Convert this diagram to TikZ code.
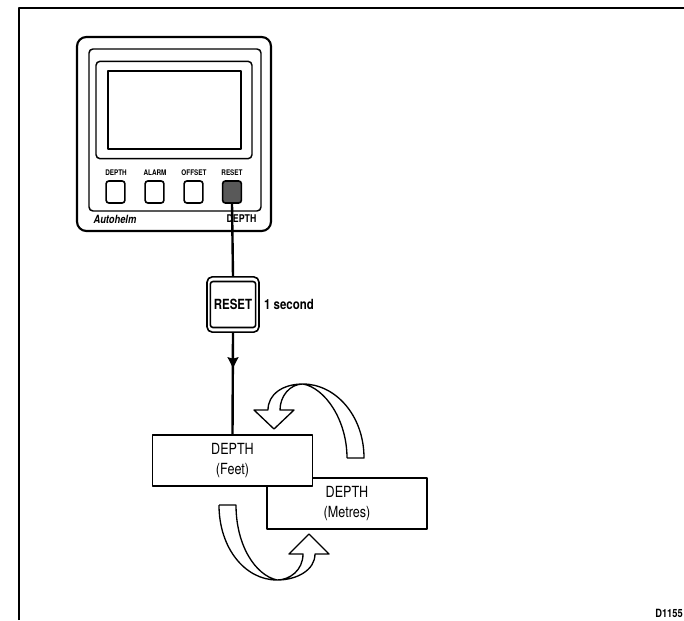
\documentclass[tikz,border=0pt]{standalone}
\usepackage{fontspec}
\setmainfont[FakeStretch=0.82]{TeX Gyre Heros}
\usetikzlibrary{arrows.meta,positioning}
\begin{document}
\begin{tikzpicture}[x=0.75pt,y=-0.75pt,>=Stealth,line join=round,
label/.style={inner sep=0pt,align=center,font=\fontsize{10.5}{12}\selectfont\bfseries},
btnlabel/.style={inner sep=0pt,font=\fontsize{5.8}{6}\selectfont\bfseries},
btn/.style={draw,rounded corners=2pt,line width=1.2pt,minimum width=14pt,minimum height=16.5pt,inner sep=0pt},
state/.style={draw,fill=white,line width=1.2pt,minimum width=120pt,minimum height=38pt,inner sep=0pt,align=center,font=\fontsize{11.5}{15}\selectfont},
turn/.style={draw,line width=1pt,fill=white}]
\useasboundingbox (0,0) rectangle (684,620);
% frame
\coordinate (frameleft) at (19,620);
\coordinate (framecorner) at (19,8);
\coordinate (frameright) at (684,8);
\draw[line width=1.6pt] (frameleft)--(framecorner)--(frameright);
% instrument
\node[draw,line width=1.6pt,rounded corners=7pt,minimum width=145.5pt,minimum height=145.5pt] (case) at (174,134) {};
\node[draw,line width=1.1pt,rounded corners=3pt,minimum width=129pt,minimum height=121.5pt] (bezel) at (175,130) {};
\node[draw,line width=1.1pt,rounded corners=3pt,minimum width=117pt,minimum height=73pt] (window) at (174,110) {};
\node[draw,line width=1.4pt,minimum width=99.75pt,minimum height=58.5pt] (screen) at (174.5,110) {};
\node[btn] (depthbtn) at (115.5,192) {};
\node[btn] (alarmbtn) at (154.5,192) {};
\node[btn] (offsetbtn) at (193.5,192) {};
\node[btn,fill=black!65] (resetbtn) at (232,192) {};
\node[btnlabel] (depthlbl) at (116,173) {DEPTH};
\node[btnlabel] (alarmlbl) at (155,173) {ALARM};
\node[btnlabel] (offsetlbl) at (194,173) {OFFSET};
\node[btnlabel] (resetlbl) at (232,173) {RESET};
\node[inner sep=0pt,font=\fontsize{8.5}{9}\selectfont\bfseries\itshape] (brand) at (115,219) {Autohelm};
\node[inner sep=0pt,font=\fontsize{8}{9}\selectfont\bfseries] (model) at (241.5,219) {DEPTH};
% key
\node[draw,line width=1.2pt,rounded corners=4pt,minimum width=39pt,minimum height=41.5pt,inner sep=0pt] (resetouter) at (233,304.5) {};
\node[draw,line width=1.2pt,rounded corners=2pt,minimum width=34pt,minimum height=34.5pt,inner sep=0pt,label] (resetkey) at (233,304.5) {RESET};
\node[label,right=3pt of resetouter] (hold) {1 second};
% states
\node[state] (metres) at (347,503.5) {DEPTH\\(Metres)};
\node[state] (feet) at (232.5,460.5) {DEPTH\\(Feet)};
\draw[line width=1.8pt] (resetbtn.south)--(resetouter.north);
\draw[line width=1.8pt] (resetouter.south)--(feet.north);
\coordinate (tipmark) at (233,368);
\draw[line width=1.8pt,-{Stealth[length=8pt,width=8pt,inset=1pt]}] (resetouter.south)--(tipmark);
% turning arrows
\draw[turn] (347,458)--(364,458) .. controls (364,415) and (335,384) .. (303,384)
 .. controls (283,384) and (268,394) .. (268,410)--(254,410)--(274,429)--(294,410)--(280,410)
 .. controls (280,396) and (290,384) .. (303,384) .. controls (325,388) and (347,420) .. (347,458);
\draw[turn] (219,505)--(236,505) .. controls (236,545) and (255,575) .. (277,580)
 .. controls (290,580) and (303,570) .. (303,554)--(289,554)--(309,534)--(329,554)--(315,554)
 .. controls (315,570) and (297,580) .. (277,580) .. controls (245,580) and (219,548) .. (219,505);
\node[inner sep=0pt,anchor=east,font=\fontsize{8.5}{10}\selectfont\bfseries] (figref) at (683,613) {D1155};
\end{tikzpicture}
\end{document}
